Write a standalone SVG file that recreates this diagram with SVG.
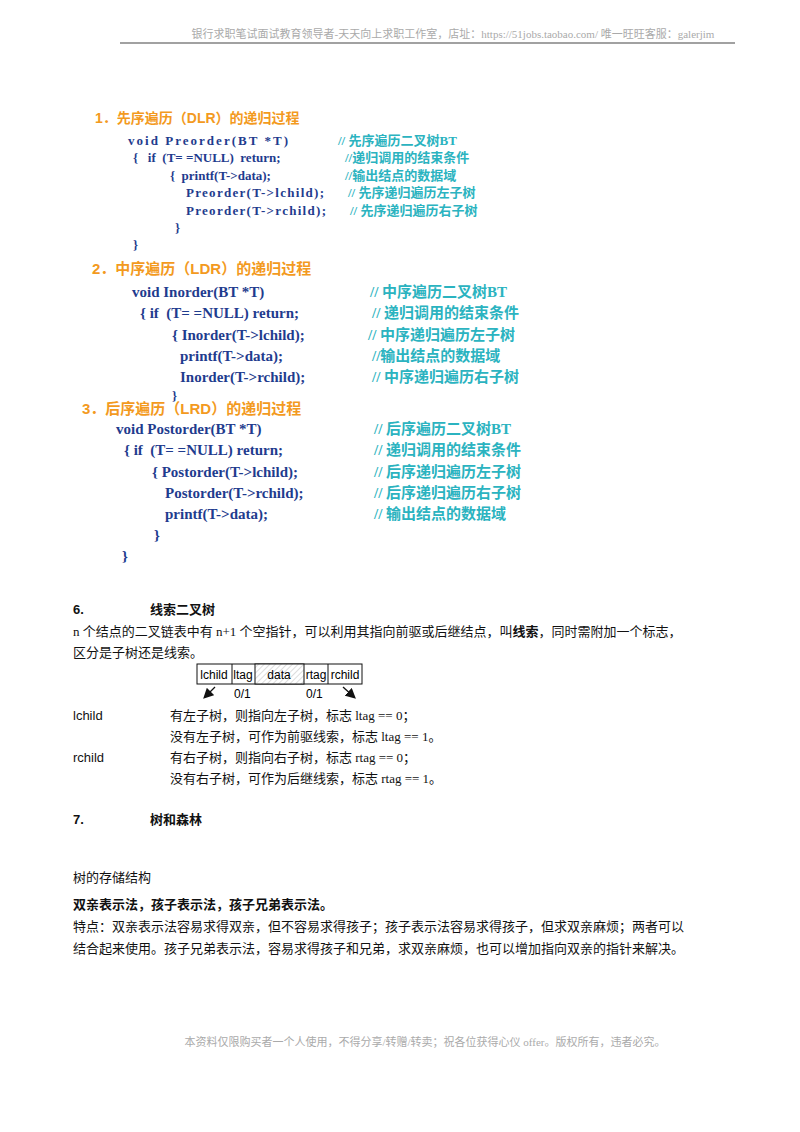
<svg xmlns="http://www.w3.org/2000/svg" width="800" height="1132" viewBox="0 0 800 1132">
<style>
.h{font-family:"Liberation Serif","Noto Sans CJK SC",serif;font-size:11px;fill:#aaa}
.o{font-family:"Liberation Sans","Noto Sans CJK SC",sans-serif;font-weight:bold;fill:#f39a1e}
.c{font-family:"Liberation Serif","Noto Sans CJK SC",serif;font-weight:bold;fill:#1f3c8e;white-space:pre}
.m{font-family:"Liberation Serif","Noto Sans CJK SC",serif;font-weight:bold;fill:#2bb3c0}
.t{font-family:"Liberation Sans","Noto Sans CJK SC",sans-serif;font-size:13px;fill:#111}
.s{font-family:"Liberation Serif","Noto Sans CJK SC",serif;font-size:13px;fill:#111}
.b{font-weight:bold}
</style>
<defs>
<pattern id="hat" width="4" height="4" patternUnits="userSpaceOnUse" patternTransform="rotate(45)"><rect width="4" height="4" fill="#fff"/><line x1="0" y1="0" x2="0" y2="4" stroke="#bbb" stroke-width="1"/></pattern>
<marker id="ar" markerWidth="8" markerHeight="8" refX="6" refY="4" orient="auto"><path d="M0,0 L8,4 L0,8 z" fill="#111"/></marker>
</defs>
<rect width="800" height="1132" fill="#fff"/>
<text class="h" x="453" y="38" text-anchor="middle">银行求职笔试面试教育领导者-天天向上求职工作室，店址：https://51jobs.taobao.com/  唯一旺旺客服：galerjim</text>
<line x1="120" y1="43" x2="735" y2="43" stroke="#444" stroke-width="1.2"/>

<g id="sec1" font-size="13">
<text class="o" x="95" y="123" font-size="14">1．先序遍历（DLR）的递归过程</text>
<text class="c" x="128" y="145" textLength="160">void Preorder(BT *T)</text><text class="m" x="338" y="145">// 先序遍历二叉树BT</text>
<text class="c" x="133" y="162">{   if  (T= =NULL)  return;</text><text class="m" x="345" y="162">//递归调用的结束条件</text>
<text class="c" x="170" y="180">{  printf(T-&gt;data);</text><text class="m" x="345" y="180">//输出结点的数据域</text>
<text class="c" x="186" y="197" textLength="138">Preorder(T-&gt;lchild);</text><text class="m" x="348" y="197">// 先序递归遍历左子树</text>
<text class="c" x="186" y="215" textLength="140">Preorder(T-&gt;rchild);</text><text class="m" x="350" y="215">// 先序递归遍历右子树</text>
<text class="c" x="175" y="232">}</text>
<text class="c" x="133" y="249">}</text>
</g>
<g id="sec2" font-size="15">
<text class="o" x="92" y="274" font-size="15">2．中序遍历（LDR）的递归过程</text>
<text class="c" x="132" y="297">void Inorder(BT *T)</text><text class="m" x="370" y="297">// 中序遍历二叉树BT</text>
<text class="c" x="140" y="318">{ if  (T= =NULL) return;</text><text class="m" x="372" y="318">// 递归调用的结束条件</text>
<text class="c" x="172" y="340">{ Inorder(T-&gt;lchild);</text><text class="m" x="368" y="340">//  中序递归遍历左子树</text>
<text class="c" x="180" y="361">printf(T-&gt;data);</text><text class="m" x="372" y="361">//输出结点的数据域</text>
<text class="c" x="180" y="382">Inorder(T-&gt;rchild);</text><text class="m" x="372" y="382">// 中序递归遍历右子树</text>
<text class="c" x="172" y="400" font-size="13">}</text>
</g>
<g id="sec3" font-size="15">
<text class="o" x="82" y="414" font-size="15">3．后序遍历（LRD）的递归过程</text>
<text class="c" x="116" y="434">void Postorder(BT *T)</text><text class="m" x="374" y="434">// 后序遍历二叉树BT</text>
<text class="c" x="124" y="455">{ if  (T= =NULL) return;</text><text class="m" x="374" y="455">// 递归调用的结束条件</text>
<text class="c" x="152" y="477">{ Postorder(T-&gt;lchild);</text><text class="m" x="374" y="477">// 后序递归遍历左子树</text>
<text class="c" x="165" y="498">Postorder(T-&gt;rchild);</text><text class="m" x="374" y="498">// 后序递归遍历右子树</text>
<text class="c" x="165" y="519">printf(T-&gt;data);</text><text class="m" x="374" y="519">// 输出结点的数据域</text>
<text class="c" x="154" y="540">}</text>
<text class="c" x="122" y="561">}</text>
</g>

<g id="sec6">
<text class="t b" x="73" y="614">6.</text><text class="t b" x="150" y="614">线索二叉树</text>
<text class="s" x="73" y="636">n 个结点的二叉链表中有 n+1 个空指针，可以利用其指向前驱或后继结点，叫<tspan font-weight="bold">线索</tspan>，同时需附加一个标志，</text>
<text class="s" x="73" y="657">区分是子树还是线索。</text>
</g>
<g id="node-table" font-family="Liberation Sans,sans-serif" font-size="12">
<rect x="197" y="664" width="165" height="20" fill="#fff" stroke="#111"/>
<rect x="255" y="664" width="49" height="20" fill="url(#hat)" stroke="#111"/>
<line x1="232" y1="664" x2="232" y2="684" stroke="#111"/>
<line x1="328" y1="664" x2="328" y2="684" stroke="#111"/>
<text x="214" y="679" text-anchor="middle">lchild</text>
<text x="243" y="679" text-anchor="middle">ltag</text>
<text x="279" y="679" text-anchor="middle">data</text>
<text x="316" y="679" text-anchor="middle">rtag</text>
<text x="345" y="679" text-anchor="middle">rchild</text>
<text x="234" y="698">0/1</text>
<text x="306" y="698">0/1</text>
</g>
<g id="connectors" stroke="#111" stroke-width="1.3">
<line x1="215" y1="687" x2="205" y2="697" marker-end="url(#ar)"/>
<line x1="343" y1="687" x2="354" y2="697" marker-end="url(#ar)"/>
</g>
<g id="defs-text">
<text class="t" x="73" y="720">lchild</text><text class="s" x="170" y="720">有左子树，则指向左子树，标志 ltag == 0；</text>
<text class="s" x="170" y="741">没有左子树，可作为前驱线索，标志 ltag == 1。</text>
<text class="t" x="73" y="762">rchild</text><text class="s" x="170" y="762">有右子树，则指向右子树，标志 rtag == 0；</text>
<text class="s" x="170" y="783">没有右子树，可作为后继线索，标志 rtag == 1。</text>
</g>
<g id="sec7">
<text class="t b" x="73" y="824">7.</text><text class="t b" x="150" y="824">树和森林</text>
<text class="s" x="73" y="882">树的存储结构</text>
<text class="s b" x="73" y="909">双亲表示法，孩子表示法，孩子兄弟表示法。</text>
<text class="s" x="73" y="931">特点：双亲表示法容易求得双亲，但不容易求得孩子；孩子表示法容易求得孩子，但求双亲麻烦；两者可以</text>
<text class="s" x="73" y="953">结合起来使用。孩子兄弟表示法，容易求得孩子和兄弟，求双亲麻烦，也可以增加指向双亲的指针来解决。</text>
</g>
<text class="h" x="425" y="1046" text-anchor="middle" font-size="10">本资料仅限购买者一个人使用，不得分享/转赠/转卖；祝各位获得心仪 offer。版权所有，违者必究。</text>
</svg>
